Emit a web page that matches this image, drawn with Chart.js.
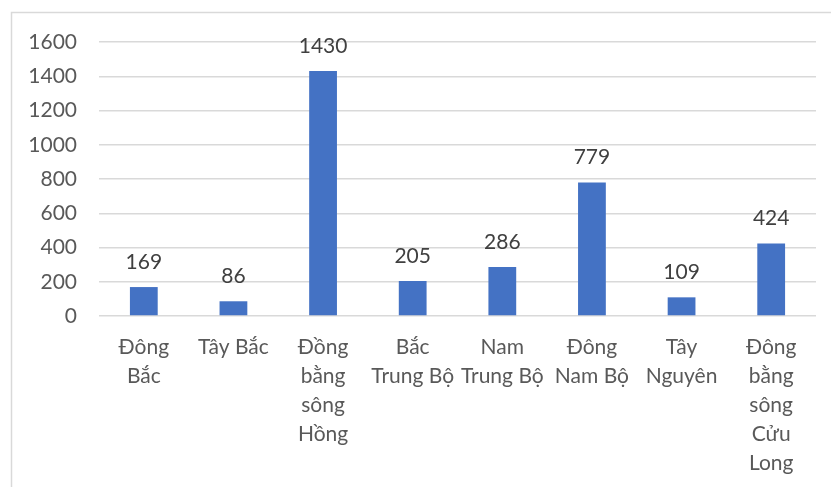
<!DOCTYPE html>
<html>
<head>
<meta charset="utf-8">
<script src="https://cdn.jsdelivr.net/npm/chart.js@4.4.0/dist/chart.umd.min.js"></script>
<style>
  html, body { margin: 0; padding: 0; background: #fff; }
  #wrap { width: 831px; height: 487px; position: relative; }
</style>
</head>
<body>
<div id="wrap"><canvas id="chart" width="831" height="487"></canvas></div>
<script>
const categories = [
  ['Đông', 'Bắc'],
  'Tây Bắc',
  ['Đồng', 'bằng', 'sông', 'Hồng'],
  ['Bắc', 'Trung Bộ'],
  ['Nam', 'Trung Bộ'],
  ['Đông', 'Nam Bộ'],
  ['Tây', 'Nguyên'],
  ['Đông', 'bằng', 'sông', 'Cửu', 'Long']
];
const values = [169, 86, 1430, 205, 286, 779, 109, 424];
const yMax = 1600;
const yStep = 200;

const FONT = 'Lato, "Open Sans", sans-serif';

// light frame around the chart (left + top edges visible)
const framePlugin = {
  id: 'frame',
  beforeDraw(chart) {
    const ctx = chart.ctx;
    ctx.save();
    ctx.fillStyle = '#fff';
    ctx.fillRect(0, 0, chart.width, chart.height);
    ctx.strokeStyle = '#d9d9d9';
    ctx.lineWidth = 1.5;
    ctx.strokeRect(11.5, 12.5, 1000, 1000);
    ctx.restore();
  }
};

// value labels above each bar
const valueLabels = {
  id: 'valueLabels',
  afterDatasetsDraw(chart) {
    const ctx = chart.ctx;
    ctx.save();
    ctx.font = '21px ' + FONT;
    ctx.fillStyle = '#404040';
    ctx.textAlign = 'center';
    ctx.textBaseline = 'middle';
    chart.getDatasetMeta(0).data.forEach((bar, i) => {
      ctx.fillText(String(values[i]), bar.x, bar.y - 25);
    });
    ctx.restore();
  }
};

new Chart(document.getElementById('chart'), {
  type: 'bar',
  data: {
    labels: categories,
    datasets: [{
      data: values,
      backgroundColor: '#4472c4',
      barPercentage: 0.31,
      categoryPercentage: 1.0
    }]
  },
  options: {
    responsive: false,
    animation: false,
    layout: { padding: { top: 42, right: 15, left: 0, bottom: 0 } },
    plugins: {
      legend: { display: false },
      tooltip: { enabled: false }
    },
    scales: {
      x: {
        grid: { display: false },
        border: { display: false },
        ticks: {
          autoSkip: false,
          maxRotation: 0,
          minRotation: 0,
          color: '#595959',
          padding: 9,
          font: { family: FONT, size: 21, lineHeight: 1.38 }
        },
        afterFit(scale) { scale.height = 171; }
      },
      y: {
        min: 0,
        max: yMax,
        grid: { color: '#d9d9d9', lineWidth: 1.5, drawTicks: false },
        border: { display: false },
        ticks: {
          stepSize: yStep,
          color: '#595959',
          padding: 22,
          font: { family: FONT, size: 21 },
          callback: (v) => String(v)
        },
        afterFit(scale) { scale.width = 99; }
      }
    }
  },
  plugins: [framePlugin, valueLabels]
});
</script>
</body>
</html>
